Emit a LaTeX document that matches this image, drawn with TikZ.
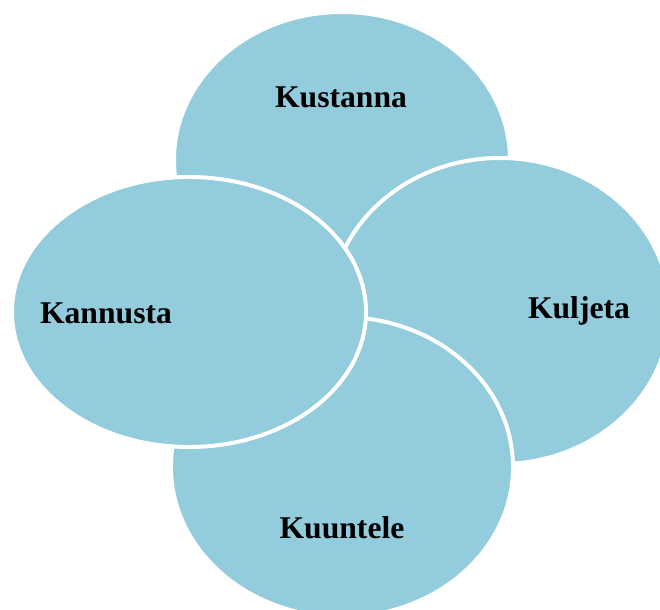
\documentclass[tikz,border=0pt]{standalone}
\usepackage{fontspec}
\setmainfont{Liberation Serif}
\usepackage{xcolor}
\usepackage{tikz}
\usetikzlibrary{shapes.geometric}

\definecolor{petalblue}{RGB}{147,204,221}

\begin{document}
\begin{tikzpicture}[
  x=0.03cm,y=-0.03cm,
  petal/.style={draw=white,fill=petalblue,ellipse,inner sep=0pt,line width=3.4pt},
  word/.style={font=\fontsize{27}{32}\selectfont\bfseries,text=black,inner sep=0pt}
]
\useasboundingbox (0,0) rectangle (660,610);

% petals, back to front
\node[petal,minimum width=10.08cm,minimum height=8.88cm] (top) at (342,160) {};
\node[petal,minimum width=10.2cm,minimum height=9.18cm] (right) at (500,311) {};
\node[petal,minimum width=10.26cm,minimum height=9.0cm] (bottom) at (342,467) {};
\node[petal,minimum width=10.62cm,minimum height=8.1cm] (left) at (189,312) {};

\node[word] (kustanna) at (341,97) {Kustanna};
\node[word] (kuljeta) at (579,311) {Kuljeta};
\node[word] (kuuntele) at (342,528) {Kuuntele};
\node[word] (kannusta) at (106,313) {Kannusta};

\end{tikzpicture}
\end{document}
